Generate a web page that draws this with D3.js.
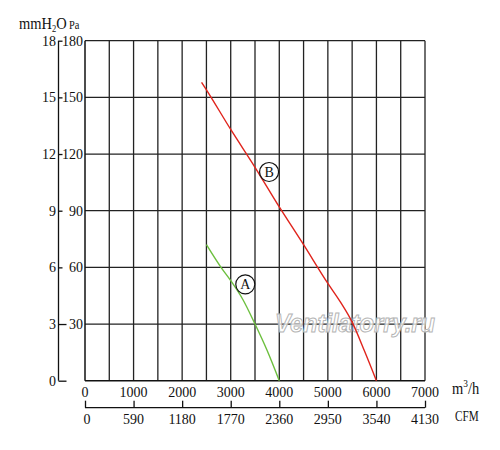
<!DOCTYPE html>
<html><head><meta charset="utf-8">
<script src="https://cdn.jsdelivr.net/npm/d3@7"></script>
<style>body{margin:0;background:#fff}svg{display:block}text{font-family:"Liberation Serif",serif;fill:#111}</style>
</head><body><svg id="c" width="500" height="450"></svg>
<script>
const flowTicks = [0,1000,2000,3000,4000,5000,6000,7000];
const cfmTicks = [0,590,1180,1770,2360,2950,3540,4130];
const paTicks = [0,30,60,90,120,150,180];
const mmTicks = [0,3,6,9,12,15,18];
const gridFlow = [500,1000,1500,2000,2500,3000,3500,4000,4500,5000,5500,6000,6500,7000];
const flowA = [2500,2800,3000,3250,3500,3750,4000];
const pressA = [72,60,53,43,30,16,0];
const flowB = [2400,2500,3000,3500,4000,4500,5000,5250,5500,5750,6000];
const pressB = [158,154,133,113,92,72,51.5,42,31,16,0];

const svg = d3.select('#c');
const x = d3.scaleLinear().domain([0,7000]).range([85,425]);
const y = d3.scaleLinear().domain([0,180]).range([380.7,40.7]);
const yMm = d3.scaleLinear().domain([0,18]).range([380.7,40.7]);
const xCfm = d3.scaleLinear().domain([0,4130]).range([85,425]);

const g = svg.append('g');
g.selectAll('.vg').data(gridFlow).join('line')
  .attr('x1',d=>x(d)).attr('x2',d=>x(d)).attr('y1',y(0)).attr('y2',y(180))
  .attr('stroke','#222').attr('stroke-width',1.3);
g.selectAll('.hg').data(paTicks.slice(1)).join('line')
  .attr('x1',x(0)).attr('x2',x(7000)).attr('y1',d=>y(d)).attr('y2',d=>y(d))
  .attr('stroke','#222').attr('stroke-width',1.3);
g.append('line').attr('x1',x(0)).attr('x2',x(0)).attr('y1',y(0)).attr('y2',y(180)).attr('stroke','#111').attr('stroke-width',1.5);
g.append('line').attr('x1',x(0)).attr('x2',x(7000)).attr('y1',y(0)).attr('y2',y(0)).attr('stroke','#111').attr('stroke-width',1.5);

g.selectAll('.pa').data(paTicks.slice(1)).join('text')
  .attr('x',83).attr('y',d=>y(d)+5).attr('text-anchor','end').style('font-size','14px').text(d=>d);

const mmAxis = d3.axisRight(yMm).tickValues(mmTicks).tickSize(6).tickFormat('');
const ma = svg.append('g').attr('transform','translate(58.5,0)').call(mmAxis);
ma.select('.domain').attr('d',`M0,${yMm(0)}V${yMm(18)}`).attr('stroke','#111').attr('stroke-width',1.3);
ma.selectAll('.tick line').attr('stroke','#111').attr('stroke-width',1.3).attr('x2',d=>(d===0||d===3)?8:4);
svg.selectAll('.mm').data(mmTicks).join('text')
  .attr('x',56).attr('y',d=>yMm(d)+5).attr('text-anchor','end').style('font-size','14px').text(d=>d);

svg.selectAll('.fl').data(flowTicks).join('text')
  .attr('x',d=>x(d)).attr('y',397).attr('text-anchor','middle').style('font-size','14px').text(d=>d);

const cfmAxis = d3.axisTop(xCfm).tickValues(cfmTicks).tickSize(7).tickFormat('');
const ca = svg.append('g').attr('transform','translate(0,407.7)').call(cfmAxis);
ca.select('.domain').attr('d',`M${xCfm(0)},0H${xCfm(4130)}`).attr('stroke','#111').attr('stroke-width',1.3);
ca.selectAll('.tick line').attr('stroke','#111').attr('stroke-width',1.3);
svg.selectAll('.cf').data(cfmTicks).join('text')
  .attr('x',d=>d===0?xCfm(d)+2:xCfm(d)).attr('y',423.5).attr('text-anchor','middle').style('font-size','14px').text(d=>d);

const u1 = svg.append('text').attr('transform','translate(452,394) scale(0.85,1)').style('font-size','17px');
u1.append('tspan').text('m');
u1.append('tspan').attr('dy',-7).style('font-size','11px').text('3');
u1.append('tspan').attr('dy',7).text('/h');
svg.append('text').attr('transform','translate(455,421) scale(0.8,1)').style('font-size','14px').text('CFM');
const u2 = svg.append('text').attr('transform','translate(19,29) scale(0.85,1)').style('font-size','17px');
u2.append('tspan').text('mmH');
u2.append('tspan').attr('dy',2.5).style('font-size','10px').text('2');
u2.append('tspan').attr('dy',-2.5).text('O');
svg.append('text').attr('transform','translate(69,29) scale(0.8,1)').style('font-size','13px').text('Pa');

svg.append('text').attr('x',275).attr('y',331.5)
  .attr('textLength',160).attr('lengthAdjust','spacingAndGlyphs')
  .style('font-family','"Liberation Sans",sans-serif').style('font-size','25px').style('font-weight','bold').style('font-style','italic')
  .style('fill','#ffffff').style('fill-opacity',0.75).attr('stroke','#b4b4b4').attr('stroke-width',1).text('Ventilatorry.ru');

const line = d3.line().x(d=>x(d[0])).y(d=>y(d[1])).curve(d3.curveMonotoneX);
svg.append('path').datum(flowA.map((f,i)=>[f,pressA[i]])).attr('d',line)
  .attr('fill','none').attr('stroke','#6cbf3e').attr('stroke-width',1.4);
svg.append('path').datum(flowB.map((f,i)=>[f,pressB[i]])).attr('d',line)
  .attr('fill','none').attr('stroke','#e0241c').attr('stroke-width',1.4);

const labels = [{t:'A',f:3300,p:51},{t:'B',f:3790,p:110.5}];
labels.forEach(l=>{
  svg.append('circle').attr('cx',x(l.f)).attr('cy',y(l.p)).attr('r',9.5).attr('fill','#fff').attr('stroke','#111').attr('stroke-width',1.2);
  svg.append('text').attr('x',x(l.f)).attr('y',y(l.p)+5).attr('text-anchor','middle').style('font-size','14px').text(l.t);
});
</script></body></html>
